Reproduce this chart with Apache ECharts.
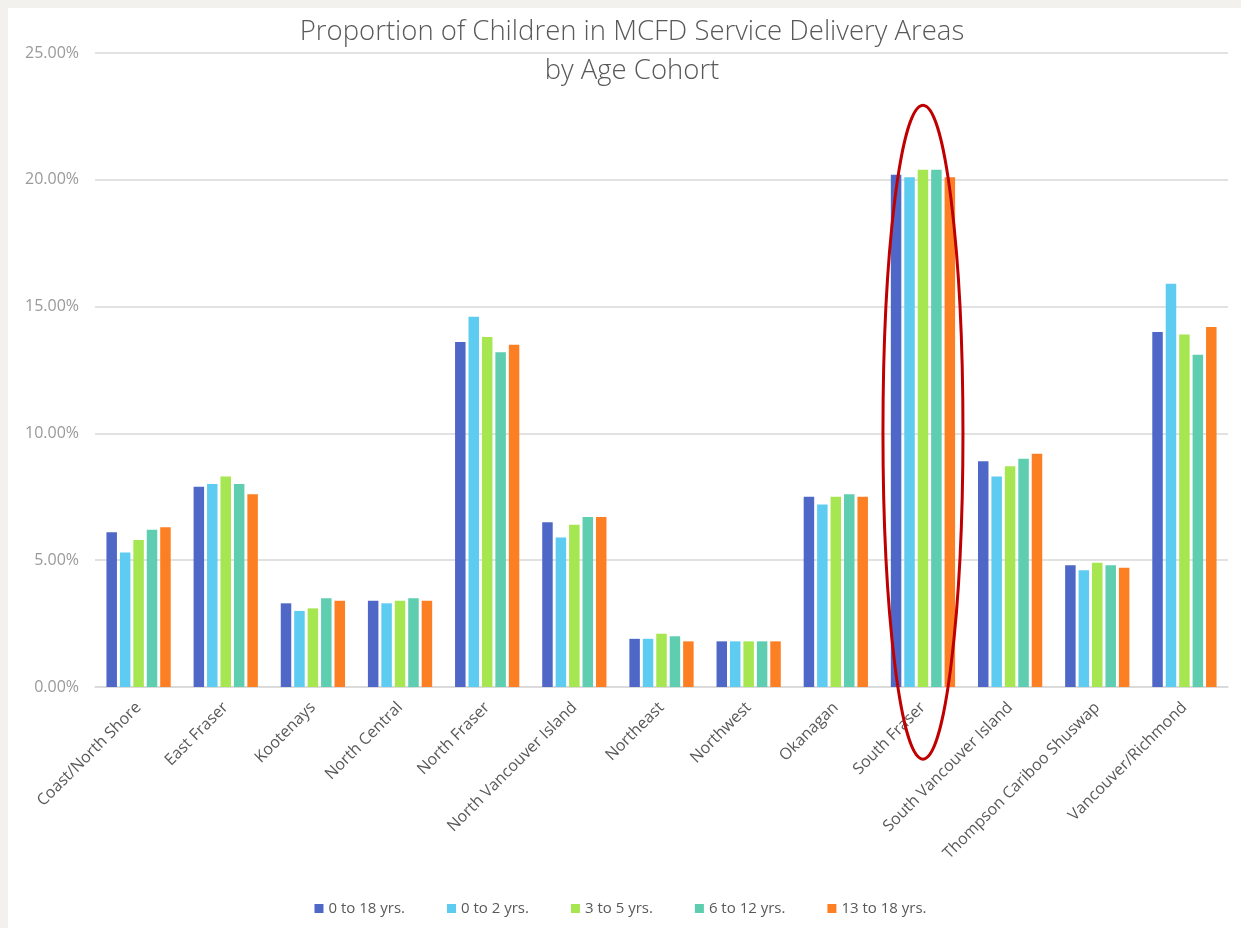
<!DOCTYPE html>
<html>
<head>
<meta charset="utf-8">
<script src="https://cdn.jsdelivr.net/npm/echarts@6/dist/echarts.min.js"></script>
<style>
html,body{margin:0;padding:0;background:#f2f1ed;}
#wrap{position:absolute;left:8px;top:8px;width:1233px;height:920px;background:#fff;}
#chart{position:absolute;left:-8px;top:-8px;width:1241px;height:928px;}
</style>
</head>
<body>
<div id="wrap"><div id="chart"></div></div>
<script>
const categories = ["Coast/North Shore","East Fraser","Kootenays","North Central","North Fraser","North Vancouver Island","Northeast","Northwest","Okanagan","South Fraser","South Vancouver Island","Thompson Cariboo Shuswap","Vancouver/Richmond"];
const seriesNames = ["0 to 18 yrs.","0 to 2 yrs.","3 to 5 yrs.","6 to 12 yrs.","13 to 18 yrs."];
const age0to18 = [6.1, 7.9, 3.3, 3.4, 13.6, 6.5, 1.9, 1.8, 7.5, 20.2, 8.9, 4.8, 14.0];
const age0to2  = [5.3, 8.0, 3.0, 3.3, 14.6, 5.9, 1.9, 1.8, 7.2, 20.1, 8.3, 4.6, 15.9];
const age3to5  = [5.8, 8.3, 3.1, 3.4, 13.8, 6.4, 2.1, 1.8, 7.5, 20.4, 8.7, 4.9, 13.9];
const age6to12 = [6.2, 8.0, 3.5, 3.5, 13.2, 6.7, 2.0, 1.8, 7.6, 20.4, 9.0, 4.8, 13.1];
const age13to18= [6.3, 7.6, 3.4, 3.4, 13.5, 6.7, 1.8, 1.8, 7.5, 20.1, 9.2, 4.7, 14.2];
const colors = ["#4f68c7","#5ecbf1","#a6e651","#5ecdb0","#fd7f23"];
const highlightCategory = "South Fraser";
const highlightCenterValue = 10.05;

const chart = echarts.init(document.getElementById('chart'), null, {renderer:'canvas'});
const allData = [age0to18, age0to2, age3to5, age6to12, age13to18];
const font = "'Open Sans', Lato, sans-serif";
const option = {
  backgroundColor: 'transparent',
  animation: false,
  color: colors,
  title: {
    text: 'Proportion of Children in MCFD Service Delivery Areas\nby Age Cohort',
    left: 627, textAlign: 'center', top: 8,
    textStyle: {fontFamily: font, fontWeight: 300, fontSize: 27.5, color: '#595959', lineHeight: 39}
  },
  legend: {
    bottom: 7, left: 'center',
    itemWidth: 9, itemHeight: 9, itemGap: 42,
    icon: 'rect',
    textStyle: {fontFamily: font, fontSize: 15, color: '#595959'},
    data: seriesNames
  },
  grid: {left: 95, right: 13, top: 53, bottom: 241, containLabel: false},
  xAxis: {
    type: 'category', data: categories,
    axisLine: {lineStyle: {color: '#d9d9d9', width: 1.5}},
    axisTick: {show: false},
    axisLabel: {rotate: 45, interval: 0, margin: 18, fontFamily: font, fontSize: 16, color: '#595959'}
  },
  yAxis: {
    type: 'value', min: 0, max: 25, interval: 5,
    axisLine: {show: false}, axisTick: {show: false},
    splitLine: {lineStyle: {color: '#d9d9d9', width: 1.5}},
    axisLabel: {formatter: v => v.toFixed(2) + '%', fontFamily: font, fontSize: 16, color: '#9a9a9a', margin: 16}
  },
  series: seriesNames.map((n, i) => ({
    name: n, type: 'bar', data: allData[i],
    barWidth: 10.5, barGap: '28%',
    itemStyle: {color: colors[i]}
  }))
};
chart.setOption(option);
const c = chart.convertToPixel({xAxisIndex:0, yAxisIndex:0}, [highlightCategory, highlightCenterValue]);
chart.setOption({
  graphic: [{
    type: 'ellipse', z: 100,
    shape: {cx: c[0], cy: c[1], rx: 40, ry: 327},
    style: {fill: 'none', stroke: '#c00000', lineWidth: 3}
  }]
});
</script>
</body>
</html>
